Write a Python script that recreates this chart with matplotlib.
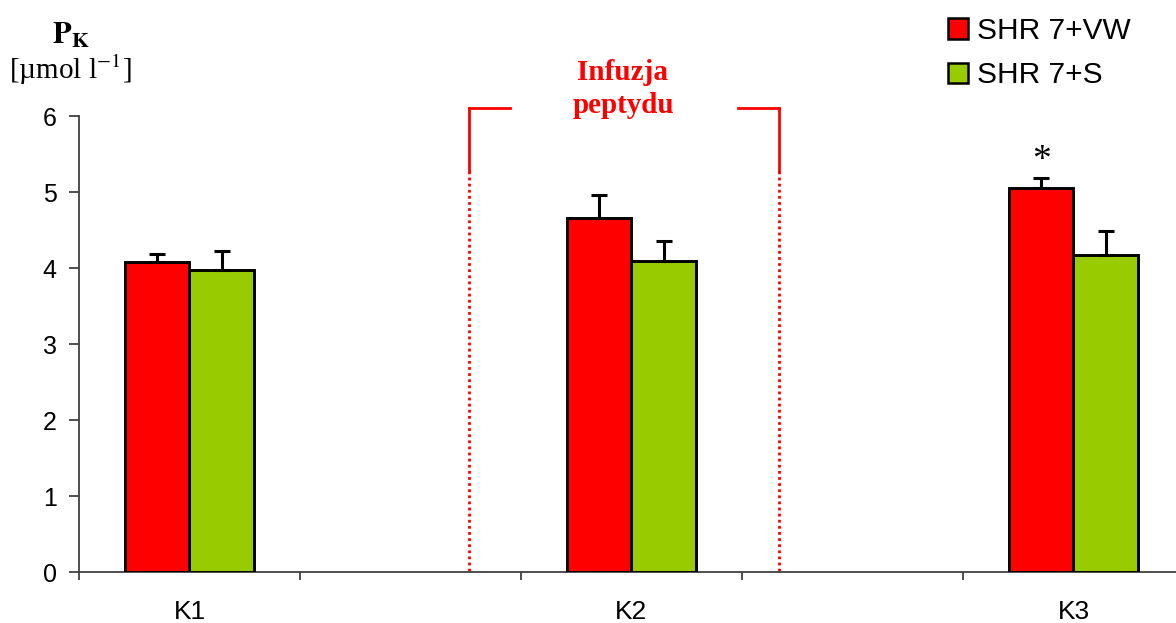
import numpy as np
import matplotlib.pyplot as plt
from matplotlib.patches import Patch

# data
groups = ["K1", "K2", "K3"]
group_pos = [0, 2, 4]
vw_mean = [4.08, 4.66, 5.05]
vw_err = [0.10, 0.30, 0.13]
s_mean = [3.97, 4.09, 4.17]
s_err = [0.25, 0.27, 0.32]
series_names = ["SHR 7+VW", "SHR 7+S"]
yticks = [0, 1, 2, 3, 4, 5, 6]

red = "#ff0000"
green = "#99cc00"
axis_col = "#404040"

plt.rcParams["font.family"] = ["Liberation Sans", "DejaVu Sans"]
plt.rcParams["mathtext.fontset"] = "stix"

fig = plt.figure(figsize=(11.76, 6.23), dpi=100)
ax = fig.add_axes([79 / 1176, 1 - 572 / 623, 1 - 79 / 1176, (572 - 116) / 623])

x = np.array(group_pos, dtype=float)
w = 0.29
err_kw = dict(ecolor="black", elinewidth=2.2, capsize=6, capthick=2.2)
ax.bar(x - w / 2, vw_mean, w, color=red, edgecolor="black", linewidth=2.1,
       yerr=[np.zeros(3), vw_err], error_kw=err_kw, zorder=3)
ax.bar(x + w / 2, s_mean, w, color=green, edgecolor="black", linewidth=2.1,
       yerr=[np.zeros(3), s_err], error_kw=err_kw, zorder=3)

ax.set_yticks(yticks)
ax.set_xticks(np.arange(-0.5, 5, 1.0))
ax.set_xticklabels([])
ax.set_xticks(group_pos, minor=True)
ax.set_xticklabels(groups, minor=True)
ax.set_ylim(0, 6)
ax.set_xlim(-0.5, 4.464)
ax.tick_params(axis="x", which="minor", length=0, pad=20, labelsize=19)
ax.tick_params(axis="x", which="major", length=6, width=1.3, color=axis_col)
ax.tick_params(axis="y", length=7, width=1.3, color=axis_col, labelsize=18, pad=9)
for side in ["top", "right"]:
    ax.spines[side].set_visible(False)
for side in ["left", "bottom"]:
    ax.spines[side].set_color(axis_col)
    ax.spines[side].set_linewidth(1.3)

# infusion bracket
xl, xr, ytop = 1.265, 2.668, 6.105
ysolid = 5.27
ax.plot([xl, xl], [ytop, ysolid], color=red, lw=2, clip_on=False, zorder=2)
ax.plot([xr, xr], [ytop, ysolid], color=red, lw=2, clip_on=False, zorder=2)
ax.plot([xl, xl], [ysolid, 0], color=red, lw=2, ls=(0, (1, 1.2)), zorder=2)
ax.plot([xr, xr], [ysolid, 0], color=red, lw=2, ls=(0, (1, 1.2)), zorder=2)
ax.plot([xl, 1.45], [ytop, ytop], color=red, lw=2, clip_on=False)
ax.plot([2.48, xr], [ytop, ytop], color=red, lw=2, clip_on=False)
fig.text(623 / 1176, 1 - 89 / 623, "Infuzja\npeptydu", color=red, ha="center",
         va="center", fontsize=21, fontweight="bold", family="Liberation Serif",
         linespacing=1.3)

# significance mark
ax.text(x[2] - w / 2, vw_mean[2] + vw_err[2] + 0.0, "*", ha="center",
        va="bottom", fontsize=27, family="Liberation Serif")

# y axis label
fig.text(71 / 1176, 1 - 35 / 623, r"$\mathbf{P_K}$", ha="center", va="center",
         fontsize=22)
fig.text(70 / 1176, 1 - 70 / 623, "[µmol l$^{\\mathrm{-1}}$]", ha="center",
         va="center", fontsize=21, family="Liberation Serif")

handles = [Patch(facecolor=red, edgecolor="black", linewidth=1.8),
           Patch(facecolor=green, edgecolor="black", linewidth=1.8)]
fig.legend(handles, series_names, loc="upper left",
           bbox_to_anchor=(927 / 1176, 1 + 4 / 623), frameon=False,
           fontsize=21.5, handlelength=0.68, handleheight=0.68, handletextpad=0.3,
           labelspacing=0.55, borderpad=0.2)

fig.savefig("out.png", dpi=100)
